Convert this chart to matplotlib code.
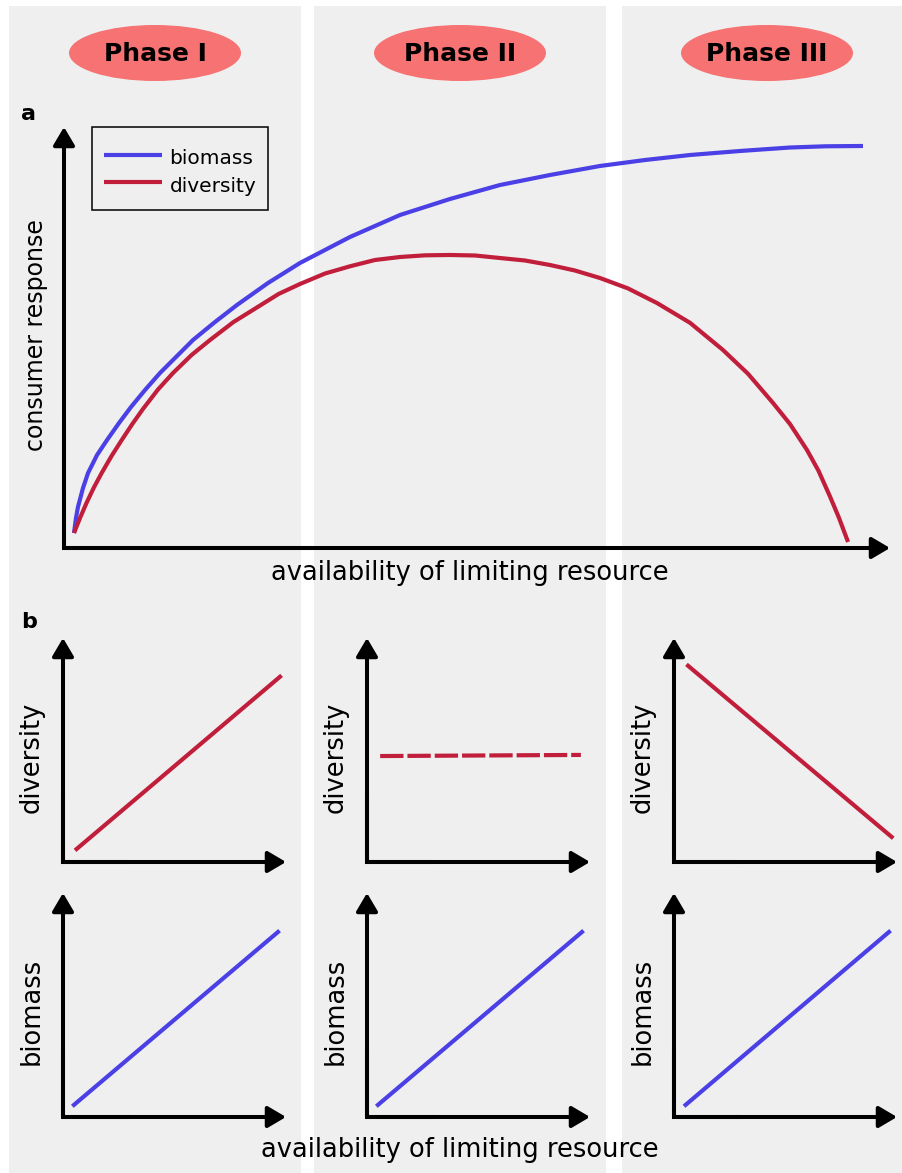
""" Conceptual figure: consumer biomass and diversity along a resource gradient

Run as:

    python3 plot.py
"""

import numpy as np
import matplotlib
matplotlib.use("Agg")
import matplotlib.pyplot as plt
from matplotlib.patches import Rectangle, Ellipse

W, H = 902, 1173   # figure size in pixels (dpi 100)

BLUE = "#4a40e6"
RED = "#c11e3c"
PANEL_GRAY = "#efefef"
PHASE_RED = "#f77272"

phases = ["Phase I", "Phase II", "Phase III"]

# panel a: both responses on a 0-100 scale of resource availability
resource_biomass = [1.21, 1.45, 1.69, 2.30, 2.91, 4.00, 5.21, 6.66, 8.11,
                    9.81, 11.62, 13.56, 15.62, 18.28, 20.94, 24.70, 28.57,
                    34.62, 40.68, 46.73, 52.78, 58.84, 64.89, 70.34, 75.79,
                    81.84, 87.89, 92.25, 96.73]
biomass = [3.56, 7.13, 9.74, 14.25, 17.81, 22.09, 25.65, 29.69, 33.49,
           37.53, 41.57, 45.37, 49.41, 53.68, 57.72, 62.95, 67.70,
           73.87, 79.10, 82.90, 86.22, 88.60, 90.74, 92.16, 93.35,
           94.30, 95.13, 95.42, 95.49]
resource_diversity = [1.21, 1.94, 2.72, 3.63, 4.56, 5.77, 6.99, 8.27, 9.56,
                      11.38, 13.20, 15.44, 17.68, 20.52, 23.37, 25.97, 28.57,
                      31.60, 34.62, 37.65, 40.68, 43.70, 46.73, 49.76, 52.78,
                      55.81, 58.84, 61.86, 64.89, 68.28, 71.79, 75.79, 79.78,
                      82.81, 85.84, 87.89, 89.95, 91.34, 92.74, 93.83, 94.92]
diversity = [3.56, 7.13, 10.69, 14.42, 17.81, 21.90, 25.65, 29.45, 33.02,
             37.65, 41.57, 45.84, 49.41, 53.68, 57.15, 60.33, 62.71,
             65.20, 66.91, 68.41, 69.12, 69.52, 69.60, 69.48, 68.88,
             68.29, 67.22, 65.91, 64.13, 61.66, 58.19, 53.49, 47.03,
             41.38, 34.44, 29.45, 23.28, 18.36, 12.21, 7.13, 1.43]

# panel b: start and end of each phase's trend line
phase_x = [[6.1, 97.3], [5.9, 95.9], [6.3, 97.6]]
phase_diversity = [[5.8, 82.7], [47.3, 47.8], [87.6, 11.2]]
phase_biomass_x = [[4.9, 96.4], [4.9, 96.4], [5.2, 96.4]]
phase_biomass = [[5.4, 82.6], [5.4, 82.6], [5.4, 82.6]]
diversity_style = ["-", (0, (5.6, 0.95)), "-"]


def fx(px):
    return px / W


def fy(py):
    return 1 - py / H


def add_axes_px(fig, left, top, right, bottom):
    """ axes whose origin sits at (left, bottom) in pixel coordinates """
    ax = fig.add_axes([fx(left), fy(bottom), (right - left) / W,
                       (bottom - top) / H])
    ax.set_facecolor("none")
    ax.set_xlim(0, 100)
    ax.set_ylim(0, 100)
    ax.set_axis_off()
    return ax


def draw_arrow_axes(ax, lw=2.9):
    head = dict(arrowstyle="-|>,head_length=11,head_width=6.5",
                mutation_scale=1, lw=lw, color="black",
                shrinkA=0, shrinkB=0)
    ax.annotate("", xy=(1, 0), xytext=(0, 0), xycoords="axes fraction",
                arrowprops=head)
    ax.annotate("", xy=(0, 1), xytext=(0, 0), xycoords="axes fraction",
                arrowprops=head)
    # fill in the corner where the two arrows meet
    ax.plot([0, 0, 0.3], [0.3, 0, 0], transform=ax.transAxes, color="black",
            lw=lw, solid_joinstyle="miter", solid_capstyle="butt",
            clip_on=False)


fig = plt.figure(figsize=(W / 100, H / 100), dpi=100)

# background: gray phase columns and the phase badges
bg = fig.add_axes([0, 0, 1, 1])
bg.set_xlim(0, W)
bg.set_ylim(H, 0)
bg.set_axis_off()
columns = [(9, 301), (314, 606), (622, 902)]
badge_x = [155, 460, 767]
for (x0, x1), cx, name in zip(columns, badge_x, phases):
    bg.add_patch(Rectangle((x0, 6), x1 - x0, H - 6, color=PANEL_GRAY, lw=0))
    bg.add_patch(Ellipse((cx, 53), 172, 56, color=PHASE_RED, lw=0))
    bg.text(cx, 54, name, ha="center", va="center", fontsize=18,
            fontweight="bold")
# legend box for panel a (entries are drawn by ax.legend below)
bg.add_patch(Rectangle((92, 127), 176, 83, fill=False, ec="black", lw=1.1))

# panel a
ax = add_axes_px(fig, 64, 127, 890, 548)
draw_arrow_axes(ax)
ax.plot(resource_biomass, biomass, color=BLUE, lw=3,
        solid_joinstyle="round", solid_capstyle="butt", label="biomass")
ax.plot(resource_diversity, diversity, color=RED, lw=3,
        solid_joinstyle="round", solid_capstyle="butt", label="diversity")
ax.legend(loc="upper left", bbox_to_anchor=(40 / 826, 402 / 421),
          borderaxespad=0, borderpad=0, fontsize=14.5, handlelength=2.9,
          handletextpad=0.35, labelspacing=0.2, handleheight=1.4,
          frameon=False)

fig.text(fx(21), fy(114), "a", fontsize=16, fontweight="bold",
         ha="left", va="center")
fig.text(fx(36), fy(335), "consumer response", fontsize=17,
         rotation=90, ha="center", va="center")
fig.text(fx(470), fy(573), "availability of limiting resource",
         fontsize=18.5, ha="center", va="center")

# panel b: one column per phase, diversity on top and biomass below
fig.text(fx(21), fy(622), "b", fontsize=16, fontweight="bold",
         ha="left", va="center")
axis_left = [63, 367, 674]
for i in range(3):
    left = axis_left[i]
    top_ax = add_axes_px(fig, left, 638, left + 223, 862)
    draw_arrow_axes(top_ax)
    top_ax.plot(phase_x[i], phase_diversity[i], color=RED, lw=3,
                ls=diversity_style[i])
    fig.text(fx(left - 31), fy(757), "diversity", fontsize=18.5,
             rotation=90, ha="center", va="center")

    low_ax = add_axes_px(fig, left, 893, left + 223, 1117)
    draw_arrow_axes(low_ax)
    low_ax.plot(phase_biomass_x[i], phase_biomass[i], color=BLUE, lw=3)
    fig.text(fx(left - 31), fy(1011), "biomass", fontsize=18.5,
             rotation=90, ha="center", va="center")

fig.text(fx(460), fy(1150), "availability of limiting resource",
         fontsize=18.5, ha="center", va="center")

fig.savefig("out.png", dpi=100)
